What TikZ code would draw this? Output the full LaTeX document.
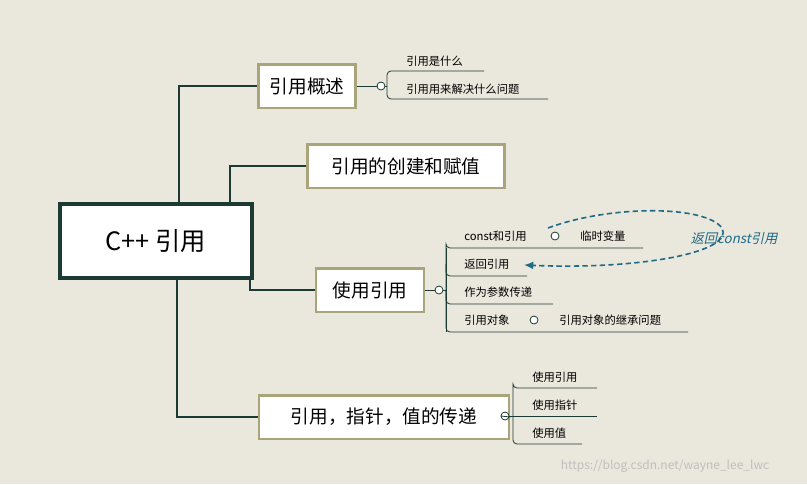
\documentclass[tikz,border=0pt]{standalone}
\usepackage{fontspec}
\setmainfont{Noto Sans CJK SC}
\newfontfamily\slantfont[FakeSlant=0.22]{Noto Sans CJK SC}
\usetikzlibrary{arrows.meta}
\definecolor{bgcol}{HTML}{EAE7DC}
\definecolor{darkline}{HTML}{1C3A33}
\definecolor{topicframe}{HTML}{A9A47A}
\definecolor{relcol}{HTML}{1F6A86}
\tikzset{
  topic/.style={draw=topicframe, line width=2.2pt, fill=white, minimum height=33pt, inner xsep=4pt, font=\fontsize{14}{16}\selectfont},
  branch/.style={draw=darkline, line width=1.4pt},
  subline/.style={draw=darkline, line width=0.6pt, rounded corners=3pt},
  leaf/.style={anchor=base west, inner sep=0pt, font=\fontsize{8.5}{10}\selectfont},
  fold/.style={circle, draw=darkline, line width=0.6pt, fill=white, inner sep=0pt, minimum size=6pt},
}
\begin{document}
\begin{tikzpicture}[x=0.0264cm, y=-0.0264cm]
\fill[bgcol] (0,0) rectangle (807,484);
\useasboundingbox (0,0) rectangle (807,484);

% central topic
\node[draw=darkline, line width=3.2pt, fill=white, font=\fontsize{19}{22}\selectfont,
  minimum width=5.05cm, minimum height=1.95cm] (root) at (156,241) {C++ 引用};

% main topics
\node[topic, minimum width=2.55cm] (t1) at (307,86) {引用概述};
\node[topic, minimum width=5.2cm] (t2) at (406,166) {引用的创建和赋值};
\node[topic, minimum width=2.85cm] (t3) at (370,290) {使用引用};
\node[topic, minimum width=6.6cm] (t4) at (384,417) {引用，指针，值的传递};

\draw[branch] (root.north -| 179,0) |- (t1.west);
\draw[branch] (root.north -| 230,0) |- (t2.west);
\draw[branch] (root.south -| 250,0) |- (t3.west);
\draw[branch] (root.south -| 177,0) |- (t4.west);

% subtopics of t1
\node[fold] (f1) at (381,86) {};
\coordinate (a1) at (387,71); \coordinate (a2) at (387,99);
\draw[subline] (t1.east) -- (f1.west);
\draw[subline] (f1.east) -- (387,86);
\draw[subline] (387,86) -- (a1) -- (484,71);
\draw[subline] (387,86) -- (a2) -- (548,99);
\node[leaf] (s11) at (406,65) {引用是什么};
\node[leaf] (s12) at (406,93) {引用用来解决什么问题};

% subtopics of t3
\node[fold] (f3) at (439,290) {};
\draw[subline] (t3.east) -- (f3.west);
\draw[subline] (f3.east) -- (446,290);
\draw[subline] (446,248) -- (446,332);
\draw[subline] (446,290) |- (446,248) -- (643,248);
\draw[subline] (446,264) |- (527,276);
\draw[subline] (446,290) |- (553,304);
\draw[subline] (446,290) |- (688,332);
\node[leaf] (s31) at (464,240) {const和引用};
\node[fold] (f31) at (555,236) {};
\node[leaf] (s311) at (580,240) {临时变量};
\node[leaf] (s32) at (464,268) {返回引用};
\node[leaf] (s33) at (464,296) {作为参数传递};
\node[leaf] (s34) at (464,324) {引用对象};
\node[fold] (f34) at (534,320) {};
\node[leaf] (s341) at (559,324) {引用对象的继承问题};

% relationship
\draw[relcol, line width=1.2pt, dash pattern=on 4pt off 2.5pt, -{Latex[length=7pt,width=6pt]}]
  (548,228) .. controls (610,205) and (705,205) .. (722,228)
  .. controls (735,252) and (640,270) .. (524,265);
\node[text=relcol, font=\fontsize{10}{12}\slantfont, inner sep=0pt] (rel) at (734,239) {返回const引用};

% subtopics of t4
\node[fold] (f4) at (505,416) {};
\draw[subline] (t4.east) -- (f4.west);
\draw[subline] (f4.east) -- (513,416);
\draw[subline] (513,416) |- (513,388) -- (597,388);
\draw[subline] (513,416) -- (597,416);
\draw[subline] (513,416) |- (582,444);
\node[leaf] (s41) at (532,381) {使用引用};
\node[leaf] (s42) at (532,409) {使用指针};
\node[leaf] (s43) at (532,437) {使用值};

\node[text=black!25, font=\fontsize{9}{10}\selectfont, inner sep=0pt] (wm) at (665,466) {https://blog.csdn.net/wayne\_lee\_lwc};
\end{tikzpicture}
\end{document}
